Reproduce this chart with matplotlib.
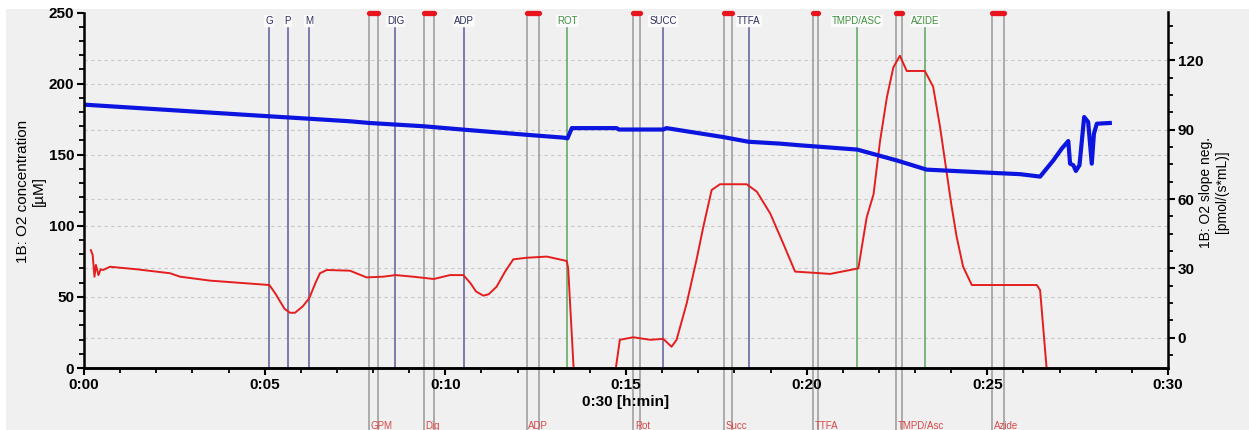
import matplotlib
matplotlib.use("Agg")
import matplotlib.pyplot as plt
from matplotlib.patches import Rectangle
from matplotlib.ticker import MultipleLocator, FuncFormatter

plt.rcParams['font.family'] = ['Liberation Sans', 'DejaVu Sans']

# O2 concentration (left axis), time in minutes
time_conc = [0.0, 5.13, 6.23, 7.36, 7.9, 9.4, 10.51, 12.25, 13.27, 13.38, 13.5,
             14.74, 14.8, 16.03, 16.12, 17.69, 18.39, 19.26, 19.82, 21.40, 22.49,
             23.32, 25.17, 25.91, 26.46, 26.64, 26.83, 27.06, 27.24, 27.29, 27.38,
             27.45, 27.55, 27.68, 27.79, 27.89, 27.95, 28.03, 28.39]
o2_conc = [185.2, 177.0, 175.3, 173.5, 172.3, 170.0, 167.6, 164.0, 162.0, 161.5, 168.7,
           168.7, 167.7, 167.7, 168.7, 162.4, 159.1, 157.8, 156.6, 153.6, 146.0,
           139.5, 137.2, 136.3, 134.6, 140.2, 146.1, 154.3, 159.6, 143.7, 142.6,
           138.6, 142.6, 176.5, 173.0, 143.7, 164.7, 171.8, 172.3]

# O2 slope neg. (right axis)
time_slope = [0.19, 0.24, 0.29, 0.33, 0.40, 0.46, 0.53, 0.72, 1.46, 2.38, 2.66, 3.49,
              5.13, 5.30, 5.43, 5.55, 5.70, 5.84, 6.05, 6.23, 6.40, 6.53, 6.72, 7.36,
              7.82, 8.28, 8.62, 9.11, 9.68, 10.13, 10.50, 10.70, 10.85, 11.05, 11.20,
              11.42, 11.65, 11.88, 12.25, 12.81, 13.36, 13.40,
              13.55, 13.65, 14.65, 14.72, 14.83, 15.20, 15.67, 16.03, 16.26, 16.40,
              16.68, 16.95, 17.14, 17.37, 17.60, 18.34, 18.62, 18.99, 19.35, 19.68,
              20.19, 20.65, 21.43, 21.66, 21.85, 22.03, 22.22, 22.40, 22.58, 22.77,
              23.27, 23.50, 23.69, 23.87, 24.00, 24.15, 24.33, 24.57, 25.17, 26.37,
              26.46, 26.64, 26.72]
o2_slope = [37.9, 35.8, 26.4, 31.5, 27.1, 29.6, 29.3, 30.7, 29.6, 27.9, 26.4, 24.7,
            22.8, 19.0, 15.6, 12.5, 10.8, 10.8, 13.5, 17.0, 23.5, 27.9, 29.3, 29.0,
            26.1, 26.4, 27.1, 26.4, 25.4, 27.1, 27.1, 23.5, 20.0, 18.2, 18.8,
            22.1, 28.5, 33.9, 34.6, 35.1, 33.2, 30.0,
            -13.2, -40.0, -40.0, -13.0, -0.9, 0.2, -0.9, -0.5, -3.9, -0.9,
            14.9, 33.6, 48.0, 63.9, 66.4, 66.4, 63.2, 53.8, 40.8, 28.6,
            28.1, 27.6, 30.0, 52.0, 62.0, 85.0, 104.0, 117.0, 122.0, 115.4,
            115.4, 108.6, 91.3, 72.0, 58.0, 43.7, 30.7, 22.8, 22.8, 22.8,
            20.6, -13.1, -40.0]

# event marks with labels at the top
top_names = ['G', 'P', 'M', 'DIG', 'ADP', 'ROT', 'SUCC', 'TTFA', 'TMPD/ASC', 'AZIDE']
top_times = [5.13, 5.64, 6.23, 8.62, 10.51, 13.38, 16.02, 18.40, 21.40, 23.27]
top_kind = ['b', 'b', 'b', 'b', 'b', 'g', 'b', 'b', 'g', 'g']

# marked intervals with labels at the bottom
mark_names = ['GPM', 'Dig', 'ADP', 'Rot', 'Succ', 'TTFA', 'TMPD/Asc', 'Azide']
mark_start = [7.88, 9.40, 12.25, 15.20, 17.71, 20.17, 22.48, 25.14]
mark_end = [8.15, 9.68, 12.58, 15.40, 17.93, 20.30, 22.64, 25.46]

bg = '#f0f0f0'
fig = plt.figure(figsize=(12.49, 4.30), dpi=100)
fig.patches.append(Rectangle((6 / 1249, 0), 1, (430 - 9) / 430, transform=fig.transFigure,
                             facecolor=bg, edgecolor='none', zorder=-10))

ax2 = fig.add_axes([84 / 1249, 62 / 430, 1084 / 1249, 355.5 / 430])
ax = ax2.twinx()
ax2.yaxis.tick_right()
ax2.yaxis.set_label_position('right')
ax.yaxis.tick_left()
ax.set_zorder(ax2.get_zorder() + 1)
ax.patch.set_visible(False)
ax2.set_facecolor(bg)

ax.set_xlim(0, 30)
ax.set_ylim(0, 250)
ax2.set_ylim(-13.1, 140.7)

# grid lines, drawn behind everything
for v in [50, 100, 150, 200]:
    ax2.plot([0, 1], [v, v], transform=ax.get_yaxis_transform(), color='#c8c8c8',
             lw=0.8, ls=(0, (3, 3)), zorder=0)
for v in [0, 30, 60, 90, 120]:
    ax2.plot([0, 1], [v, v], transform=ax2.get_yaxis_transform(), color='#c8c8c8',
             lw=0.8, ls=(0, (3, 3)), zorder=0)

xt = ax2.get_xaxis_transform()
for name, t, k in zip(top_names, top_times, top_kind):
    lc = '#5c5c98' if k == 'b' else '#5aa65a'
    tc = '#2e2e5e' if k == 'b' else '#3f923f'
    ax2.plot([t, t], [0, 0.956], transform=xt, color=lc, lw=1.1, zorder=1)
    ax2.text(t, 0.976, name, transform=xt, ha='center', va='center', fontsize=7,
             color=tc, bbox=dict(facecolor='#fafafa', edgecolor='none', pad=0.8))

for name, t0, t1 in zip(mark_names, mark_start, mark_end):
    for t in (t0, t1):
        ax2.plot([t, t], [-0.18, 1.0], transform=xt, color='#a6a6a6', lw=1.3,
                 clip_on=False, zorder=1)
    ax2.plot([t0, t1], [1.0, 1.0], transform=xt, color='#e8141e', lw=3.8,
             solid_capstyle='round', clip_on=False, zorder=3)
    ax2.text(t0 + 0.05, -0.162, name, transform=xt, ha='left', va='center',
             fontsize=7, color='#d84848', clip_on=False)

ax2.plot(time_slope, o2_slope, color='#e41e1e', lw=1.4, zorder=2)
ax.plot(time_conc, o2_conc, color='#0c14e0', lw=3, zorder=2)

# axes styling
for a in (ax, ax2):
    a.spines['top'].set_visible(False)
    for s in ('left', 'right', 'bottom'):
        a.spines[s].set_linewidth(1.8)
ax.spines['right'].set_visible(False)
ax2.spines['left'].set_visible(False)

ax2.xaxis.set_major_locator(MultipleLocator(5))
ax2.xaxis.set_minor_locator(MultipleLocator(1))
ax2.xaxis.set_major_formatter(FuncFormatter(lambda v, p: '0:%02d' % int(round(v))))
ax.yaxis.set_major_locator(MultipleLocator(50))
ax.yaxis.set_minor_locator(MultipleLocator(10))
ax2.yaxis.set_major_locator(MultipleLocator(30))
ax2.yaxis.set_minor_locator(MultipleLocator(7.5))

for a in (ax, ax2):
    a.tick_params(which='major', length=5, width=1.5, labelsize=11, pad=2)
    a.tick_params(which='minor', length=3.5, width=1.3)
    for lab in a.get_xticklabels() + a.get_yticklabels():
        lab.set_fontweight('bold')
ax.tick_params(axis='x', which='both', bottom=False, labelbottom=False)

fig.text(626 / 1249, (430 - 402) / 430, '0:30 [h:min]', ha='center', va='center',
         fontsize=11, fontweight='bold')
fig.text(31 / 1249, (430 - 191) / 430, '1B: O2 concentration\n[µM]', rotation=90,
         ha='center', va='center', fontsize=11, multialignment='center', linespacing=1.1)
fig.text(1214 / 1249, (430 - 192) / 430, '1B: O2 slope neg.\n[pmol/(s*mL)]', rotation=90,
         ha='center', va='center', fontsize=10, multialignment='center', linespacing=1.1)

fig.savefig('out.png', dpi=100, facecolor='white')
